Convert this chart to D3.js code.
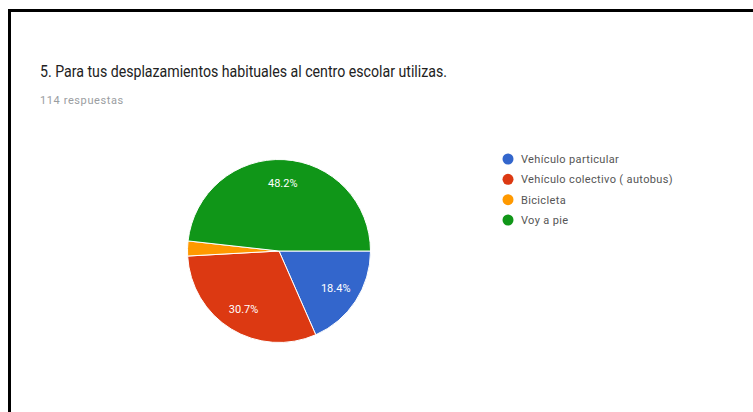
<!DOCTYPE html>
<html>
<head>
<meta charset="utf-8">
<script src="https://cdn.jsdelivr.net/npm/d3@7"></script>
<style>
  html, body { margin: 0; padding: 0; background: #fff; }
  svg { display: block; font-family: Roboto, Arial, sans-serif; }
</style>
</head>
<body>
<div id="chart"></div>
<script>
const categories = ["Vehículo particular", "Vehículo colectivo ( autobus)", "Bicicleta", "Voy a pie"];
const counts = [21, 35, 3, 55];
const colors = ["#3366cc", "#dc3912", "#ff9900", "#109618"];
const title = "5. Para tus desplazamientos habituales al centro escolar utilizas.";
const subtitle = "114 respuestas";

const width = 753;
const height = 412;
const cx = 279;
const cy = 251;
const radius = 91.5;

const svg = d3.select("#chart").append("svg")
  .attr("width", width)
  .attr("height", height);

svg.append("rect").attr("width", width).attr("height", height).attr("fill", "#fff");

// cropped screenshot frame: black line on top and left only
svg.append("line")
  .attr("x1", 8).attr("x2", width).attr("y1", 10.5).attr("y2", 10.5)
  .attr("stroke", "#000").attr("stroke-width", 3);
svg.append("line")
  .attr("x1", 9.5).attr("x2", 9.5).attr("y1", 9).attr("y2", height)
  .attr("stroke", "#000").attr("stroke-width", 3);

// the screenshot text is a little squeezed horizontally
svg.append("text")
  .attr("transform", "translate(40,77) scale(0.885,1)")
  .attr("fill", "#222")
  .style("font-size", "16px")
  .text(title);

svg.append("text")
  .attr("x", 40).attr("y", 104)
  .attr("fill", "#9a9da1")
  .style("font-size", "11px")
  .style("letter-spacing", "0.6px")
  .text(subtitle);

const total = d3.sum(counts);
const color = d3.scaleOrdinal().domain(categories).range(colors);

const pie = d3.pie()
  .sort(null)
  .startAngle(Math.PI / 2)
  .endAngle(Math.PI / 2 + 2 * Math.PI)
  .value((d) => d.value);

const slices = pie(categories.map((name, i) => ({ name, value: counts[i] })));

const arc = d3.arc().innerRadius(0).outerRadius(radius);
const labelArc = d3.arc().innerRadius(radius * 0.74).outerRadius(radius * 0.74);

const pieGroup = svg.append("g").attr("transform", `translate(${cx},${cy})`);

pieGroup.selectAll("path.slice")
  .data(slices)
  .join("path")
  .attr("class", "slice")
  .attr("d", arc)
  .attr("fill", (d) => color(d.data.name))
  .attr("stroke", "#fff")
  .attr("stroke-width", 1);

pieGroup.selectAll("text.slice-label")
  .data(slices.filter((d) => d.data.value / total > 0.05))
  .join("text")
  .attr("class", "slice-label")
  .attr("transform", (d) => `translate(${labelArc.centroid(d)})`)
  .attr("text-anchor", "middle")
  .attr("dy", "0.35em")
  .attr("fill", "#fff")
  .style("font-size", "11px")
  .text((d) => d3.format(".1f")(d.data.value / total * 100) + "%");

const legend = svg.append("g").attr("transform", "translate(508,159)");
const legendY = d3.scalePoint().domain(categories).range([0, 61]);

const items = legend.selectAll("g.item")
  .data(categories)
  .join("g")
  .attr("class", "item")
  .attr("transform", (d) => `translate(0,${legendY(d)})`);

items.append("circle")
  .attr("r", 5.5)
  .attr("fill", (d) => color(d));

items.append("text")
  .attr("x", 13)
  .attr("dy", "0.35em")
  .attr("fill", "#555")
  .style("font-size", "11px")
  .style("letter-spacing", "0.35px")
  .text((d) => d);
</script>
</body>
</html>
